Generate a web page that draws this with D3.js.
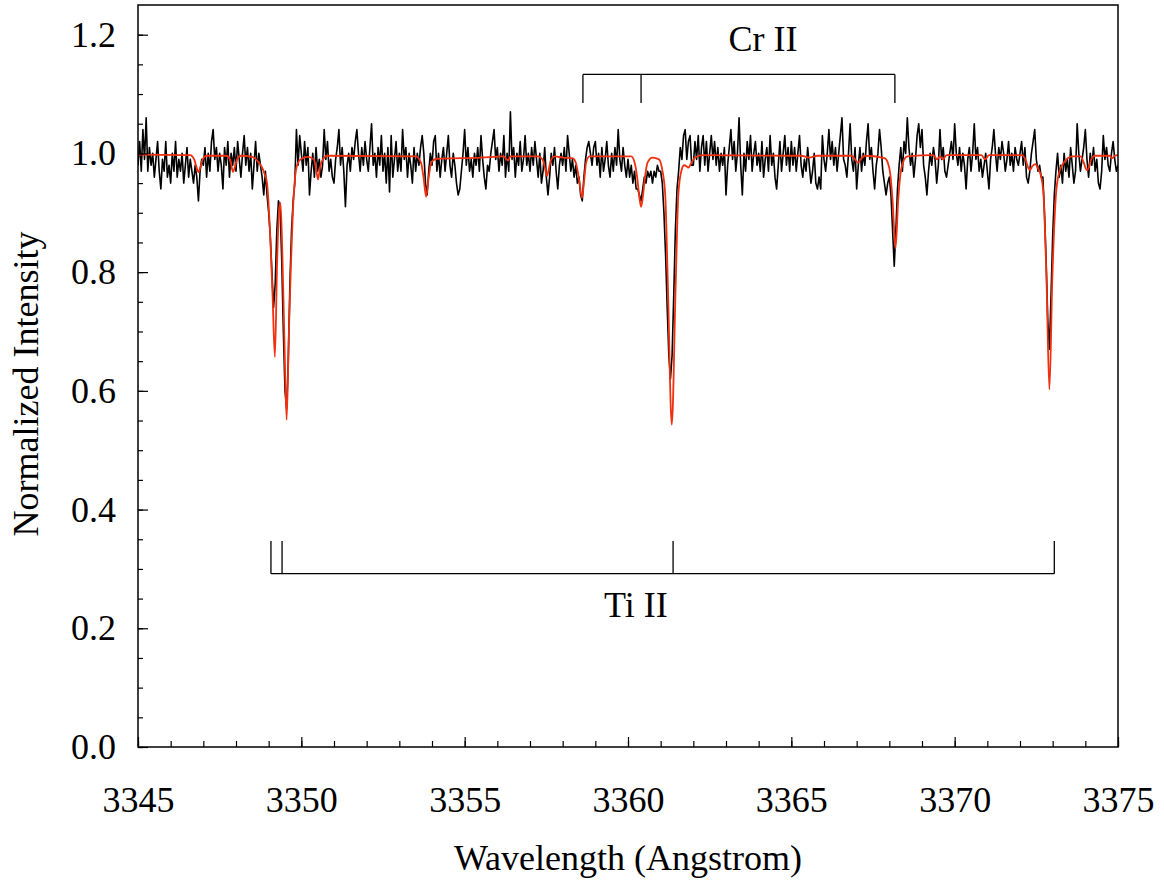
<!DOCTYPE html>
<html>
<head>
<meta charset="utf-8">
<script src="https://cdn.jsdelivr.net/npm/d3@7.9.0/dist/d3.min.js"></script>
<style>
  body { margin: 0; background: #fff; }
  svg { display: block; }
  text { font-family: "Liberation Serif", "Times New Roman", serif; fill: #000; }
</style>
</head>
<body>
<svg id="chart" width="1164" height="886"></svg>
<script>
// observed spectrum, sampled every 0.05 A from 3345.00
const waveStart = 3345;
const waveStep = 0.05;
const observedFlux = [
  0.98,1.02,0.97,1.04,0.99,1.06,0.97,1.01,0.98,1.00,0.96,0.99,1.02,0.97,0.94,0.99,0.97,1.02,0.96,0.98, // 3345
  0.95,1.00,0.97,1.02,0.96,0.99,0.97,1.00,0.95,0.98,1.01,0.96,0.99,0.97,0.95,0.98,0.96,0.92,0.97,0.99, // 3346
  0.98,1.01,0.96,1.00,0.97,1.02,1.04,0.99,1.01,0.97,1.00,0.98,0.94,1.01,0.98,1.02,0.96,1.00,0.98,1.01, // 3347
  0.97,1.02,0.99,0.96,1.00,1.03,0.98,1.01,0.97,1.00,0.94,0.98,1.02,0.97,1.00,0.98,0.96,0.93,0.97,0.93, // 3348
  0.90,0.86,0.80,0.74,0.78,0.87,0.92,0.91,0.82,0.70,0.60,0.57,0.65,0.78,0.87,0.92,0.95,1.04,0.98,1.03, // 3349
  1.00,0.97,1.02,0.98,1.01,0.93,0.97,1.00,0.96,1.01,0.97,0.99,0.96,0.98,1.04,0.99,1.02,0.97,0.99,0.96, // 3350
  0.95,0.99,1.01,1.04,0.98,1.01,0.97,0.91,0.98,1.00,0.97,1.01,0.99,1.02,1.04,1.00,0.97,1.01,0.98,1.02, // 3351
  0.99,0.97,1.01,1.05,0.98,1.00,0.96,1.01,0.98,1.03,0.97,1.00,0.95,1.01,0.935,1.03,0.96,0.99,1.02,0.97, // 3352
  1.00,0.97,1.04,0.99,1.01,0.96,1.00,0.98,0.95,1.01,0.97,1.00,0.98,1.01,1.03,1.00,0.95,0.93,0.97,1.00, // 3353
  0.98,1.02,1.03,0.97,1.00,0.96,0.99,1.01,0.97,1.00,1.03,0.98,0.96,1.00,0.98,0.95,0.93,0.94,0.97,1.00, // 3354
  1.04,0.98,1.01,0.97,0.99,0.96,1.00,0.98,1.01,0.97,1.03,0.99,0.96,0.94,0.98,0.97,1.00,1.02,1.04,0.99, // 3355
  1.01,0.97,1.00,0.98,1.03,0.96,1.00,0.97,1.07,0.99,1.01,0.96,1.00,0.98,1.02,0.97,0.99,1.03,0.98,1.00, // 3356
  0.97,1.01,0.98,1.02,0.99,0.96,1.00,0.95,0.97,1.01,0.96,0.93,0.96,1.00,0.98,1.01,0.97,0.94,0.98,1.00, // 3357
  0.98,1.01,0.97,1.03,1.00,0.97,0.99,0.96,0.98,0.95,0.96,0.93,0.92,0.96,0.99,1.01,1.02,1.00,0.98,1.01, // 3358
  1.02,0.98,1.00,0.96,1.01,0.97,0.99,1.02,0.98,0.96,1.00,0.97,1.01,0.98,1.04,0.99,0.97,1.01,0.98,0.96, // 3359
  0.99,0.96,0.98,0.95,0.97,0.94,0.94,0.93,0.92,0.94,0.96,0.95,0.97,0.96,0.97,0.95,0.97,0.96,0.98,0.97, // 3360
  0.97,0.95,0.90,0.83,0.74,0.66,0.62,0.66,0.76,0.87,0.94,0.97,1.01,0.99,1.03,1.04,0.99,1.02,1.03,0.98, // 3361
  0.98,1.02,0.99,1.03,0.97,1.01,1.03,0.98,1.02,0.97,1.00,1.03,0.99,1.02,0.98,1.01,0.97,1.00,0.98,1.01, // 3362
  0.93,0.98,1.01,1.04,0.99,1.02,0.97,1.00,1.06,0.98,0.93,1.00,0.97,1.02,0.99,1.03,0.97,1.00,1.02,0.98, // 3363
  1.00,0.97,1.02,0.96,0.99,1.01,0.97,1.03,0.98,1.00,0.96,0.94,0.98,1.02,0.97,1.00,1.03,0.98,1.01,0.97, // 3364
  1.02,0.98,1.01,0.97,1.00,1.03,0.98,0.96,0.99,0.97,1.01,0.98,0.95,0.97,1.00,0.95,0.94,0.96,0.94,1.03, // 3365
  0.99,0.97,1.00,1.04,0.99,1.02,0.98,1.01,0.97,1.00,1.03,1.06,0.99,0.98,0.96,1.00,1.05,0.99,0.97,1.01, // 3366
  0.94,0.98,1.01,0.97,1.00,0.98,1.02,1.05,0.99,1.01,0.97,0.94,0.98,1.00,1.04,1.01,0.97,0.95,0.93,0.95, // 3367
  0.96,0.93,0.87,0.81,0.87,0.94,0.98,1.01,0.97,1.02,1.00,1.06,1.01,0.98,1.00,0.96,0.99,1.03,1.05,1.01, // 3368
  1.04,0.98,0.96,0.93,0.97,1.00,0.98,1.01,0.99,0.95,0.98,1.04,0.99,1.01,0.97,0.96,0.98,1.00,1.02,0.99, // 3369
  1.05,1.00,0.98,1.01,0.97,1.00,0.98,0.94,0.99,1.01,0.97,1.00,1.05,0.99,1.01,0.97,0.99,0.96,0.98,1.00, // 3370
  0.97,0.94,0.99,1.01,1.04,1.00,0.97,1.01,0.99,1.02,1.00,0.97,0.99,1.02,0.98,1.00,0.97,1.01,0.99,0.98, // 3371
  1.00,1.02,0.98,1.01,0.96,0.95,0.97,1.00,1.02,1.04,0.99,0.97,0.98,0.96,0.96,0.90,0.82,0.72,0.67,0.76, // 3372
  0.86,0.93,0.97,1.00,0.96,0.98,0.95,1.00,0.97,0.99,0.96,1.01,0.98,0.95,0.97,1.05,1.00,0.97,0.99,1.01, // 3373
  1.04,0.99,0.96,1.00,0.98,1.01,0.97,0.99,0.95,0.94,0.97,1.03,0.99,1.01,0.98,0.97,1.00,1.02,0.99,0.97, // 3374
  0.98
];

// synthetic spectrum, [wavelength, intensity]
const modelPoints = [
  [3345.00,0.998],[3346.60,0.997],[3346.72,0.990],[3346.80,0.975],[3346.85,0.968],[3346.90,0.975],[3346.98,0.990],[3347.10,0.996],
  [3347.70,0.996],[3347.82,0.990],[3347.87,0.976],[3347.91,0.969],[3347.96,0.976],[3348.03,0.990],[3348.15,0.996],
  [3348.50,0.994],[3348.65,0.988],[3348.78,0.978],[3348.88,0.965],[3348.95,0.950],[3349.04,0.870],[3349.12,0.760],[3349.19,0.657],
  [3349.26,0.820],[3349.32,0.905],[3349.36,0.917],[3349.41,0.850],[3349.48,0.690],[3349.55,0.551],[3349.62,0.700],[3349.68,0.810],
  [3349.74,0.900],[3349.80,0.955],[3349.88,0.982],[3350.00,0.991],[3350.20,0.994],[3350.38,0.990],[3350.45,0.975],[3350.51,0.956],
  [3350.57,0.975],[3350.66,0.990],[3350.80,0.996],
  [3353.50,0.995],[3353.66,0.985],[3353.74,0.960],[3353.82,0.927],[3353.90,0.960],[3353.98,0.985],[3354.15,0.991],[3355.50,0.993],
  [3356.20,0.995],[3356.28,0.990],[3356.33,0.988],[3356.40,0.995],
  [3357.25,0.995],[3357.40,0.988],[3357.47,0.972],[3357.52,0.962],[3357.57,0.972],[3357.65,0.990],[3357.75,0.995],
  [3358.00,0.993],[3358.30,0.992],[3358.40,0.985],[3358.46,0.970],[3358.53,0.945],[3358.59,0.925],[3358.65,0.950],[3358.72,0.985],[3358.82,0.995],
  [3360.10,0.995],[3360.20,0.985],[3360.28,0.960],[3360.35,0.925],[3360.40,0.910],[3360.45,0.925],[3360.52,0.960],[3360.60,0.985],[3360.75,0.993],[3360.95,0.990],
  [3361.04,0.975],[3361.14,0.930],[3361.22,0.780],[3361.34,0.543],[3361.46,0.780],[3361.54,0.930],[3361.64,0.972],[3361.72,0.980],
  [3361.80,0.978],[3361.85,0.976],[3361.92,0.982],[3362.05,0.993],[3362.30,0.997],
  [3365.30,0.996],[3365.55,0.993],[3365.80,0.996],
  [3366.85,0.996],[3366.95,0.990],[3367.04,0.984],[3367.12,0.990],[3367.25,0.996],
  [3367.85,0.992],[3367.95,0.985],[3368.03,0.965],[3368.10,0.920],[3368.19,0.840],[3368.27,0.920],[3368.34,0.965],[3368.42,0.985],[3368.55,0.995],
  [3369.35,0.997],[3369.46,0.990],[3369.55,0.995],[3369.64,0.990],[3369.75,0.997],
  [3370.82,0.997],[3370.93,0.990],[3371.05,0.997],
  [3372.05,0.997],[3372.18,0.988],[3372.26,0.975],[3372.31,0.972],[3372.37,0.978],[3372.47,0.982],[3372.55,0.975],[3372.65,0.960],
  [3372.72,0.930],[3372.81,0.790],[3372.90,0.602],[3372.99,0.790],[3373.10,0.930],[3373.20,0.968],[3373.35,0.985],[3373.60,0.995],
  [3373.85,0.995],[3373.95,0.985],[3374.01,0.975],[3374.05,0.972],[3374.10,0.975],[3374.18,0.990],[3374.30,0.996],
  [3374.75,0.996],[3374.82,0.992],[3374.90,0.996],[3375.00,0.997]
];

// line identifications
const crLines = [3358.62, 3360.40, 3368.17];
const tiLines = [3349.07, 3349.41, 3361.38, 3373.05];

const xMajorTicks = [3345, 3350, 3355, 3360, 3365, 3370, 3375];
const xMinorTicks = d3.range(3345, 3376, 1);
const yMajorTicks = [0, 0.2, 0.4, 0.6, 0.8, 1.0, 1.2];
const yMinorTicks = d3.range(0, 25).map(i => i * 0.05);

const svg = d3.select('#chart');
const plotLeft = 138, plotRight = 1118, plotTop = 5, plotBottom = 747;

const x = d3.scaleLinear().domain([3345, 3375]).range([plotLeft, plotRight]);
const y = d3.scaleLinear().domain([0, 1.25]).range([plotBottom, plotTop]);

const observed = observedFlux.map((v, i) => [waveStart + i * waveStep, v]);

const line = d3.line().x(d => x(d[0])).y(d => y(d[1]));

svg.append('defs').append('clipPath').attr('id', 'clip')
  .append('rect').attr('x', plotLeft).attr('y', plotTop)
  .attr('width', plotRight - plotLeft).attr('height', plotBottom - plotTop);

const plot = svg.append('g').attr('clip-path', 'url(#clip)');

plot.append('path')
  .datum(observed)
  .attr('d', line)
  .attr('fill', 'none')
  .attr('stroke', '#000')
  .attr('stroke-width', 1.6)
  .attr('stroke-linejoin', 'round');

plot.append('path')
  .datum(modelPoints)
  .attr('d', line.curve(d3.curveMonotoneX))
  .attr('fill', 'none')
  .attr('stroke', '#f0300f')
  .attr('stroke-width', 1.8);

// axes
const fontSize = 36;

svg.append('g')
  .attr('transform', `translate(0,${plotBottom})`)
  .call(d3.axisBottom(x).tickValues(xMajorTicks).tickSize(-10).tickPadding(39).tickFormat(d3.format('d')));
svg.append('g')
  .attr('transform', `translate(0,${plotBottom})`)
  .call(d3.axisBottom(x).tickValues(xMinorTicks).tickSize(-6).tickFormat(''));

svg.append('g')
  .attr('transform', `translate(${plotLeft},0)`)
  .call(d3.axisLeft(y).tickValues(yMajorTicks).tickSize(-10).tickPadding(22).tickFormat(d3.format('.1f')));
svg.append('g')
  .attr('transform', `translate(${plotLeft},0)`)
  .call(d3.axisLeft(y).tickValues(yMinorTicks).tickSize(-5).tickFormat(''));

svg.selectAll('.domain').remove();
svg.selectAll('.tick line').attr('stroke', '#000').attr('stroke-width', 1.2);
svg.selectAll('.tick text')
  .attr('fill', '#000')
  .style('font-family', '"Liberation Serif", "Times New Roman", serif')
  .style('font-size', fontSize + 'px');

svg.append('rect')
  .attr('x', plotLeft).attr('y', plotTop)
  .attr('width', plotRight - plotLeft).attr('height', plotBottom - plotTop)
  .attr('fill', 'none').attr('stroke', '#000').attr('stroke-width', 1.5);

svg.append('text')
  .attr('x', (plotLeft + plotRight) / 2)
  .attr('y', 870)
  .attr('text-anchor', 'middle')
  .style('font-size', fontSize + 'px')
  .text('Wavelength (Angstrom)');

svg.append('text')
  .attr('transform', `translate(38,${(plotTop + plotBottom) / 2 + 8}) rotate(-90)`)
  .attr('text-anchor', 'middle')
  .style('font-size', fontSize + 'px')
  .text('Normalized Intensity');

// Cr II bracket
const crBar = 1.133, crTickEnd = 1.085;
const crG = svg.append('g').attr('stroke', '#000').attr('stroke-width', 1.3);
crG.append('line')
  .attr('x1', x(d3.min(crLines))).attr('x2', x(d3.max(crLines)))
  .attr('y1', y(crBar)).attr('y2', y(crBar));
crG.selectAll('.crtick').data(crLines).join('line')
  .attr('x1', d => x(d)).attr('x2', d => x(d))
  .attr('y1', y(crBar)).attr('y2', y(crTickEnd));
svg.append('text')
  .attr('x', x(3364.13)).attr('y', y(1.192) + 12)
  .attr('text-anchor', 'middle')
  .style('font-size', fontSize + 'px')
  .text('Cr II');

// Ti II bracket
const tiBar = 0.292, tiTickEnd = 0.347;
const tiG = svg.append('g').attr('stroke', '#000').attr('stroke-width', 1.3);
tiG.append('line')
  .attr('x1', x(d3.min(tiLines))).attr('x2', x(d3.max(tiLines)))
  .attr('y1', y(tiBar)).attr('y2', y(tiBar));
tiG.selectAll('.titick').data(tiLines).join('line')
  .attr('x1', d => x(d)).attr('x2', d => x(d))
  .attr('y1', y(tiBar)).attr('y2', y(tiTickEnd));
svg.append('text')
  .attr('x', x(3360.24)).attr('y', y(0.239) + 12)
  .attr('text-anchor', 'middle')
  .style('font-size', fontSize + 'px')
  .text('Ti II');
</script>
</body>
</html>
